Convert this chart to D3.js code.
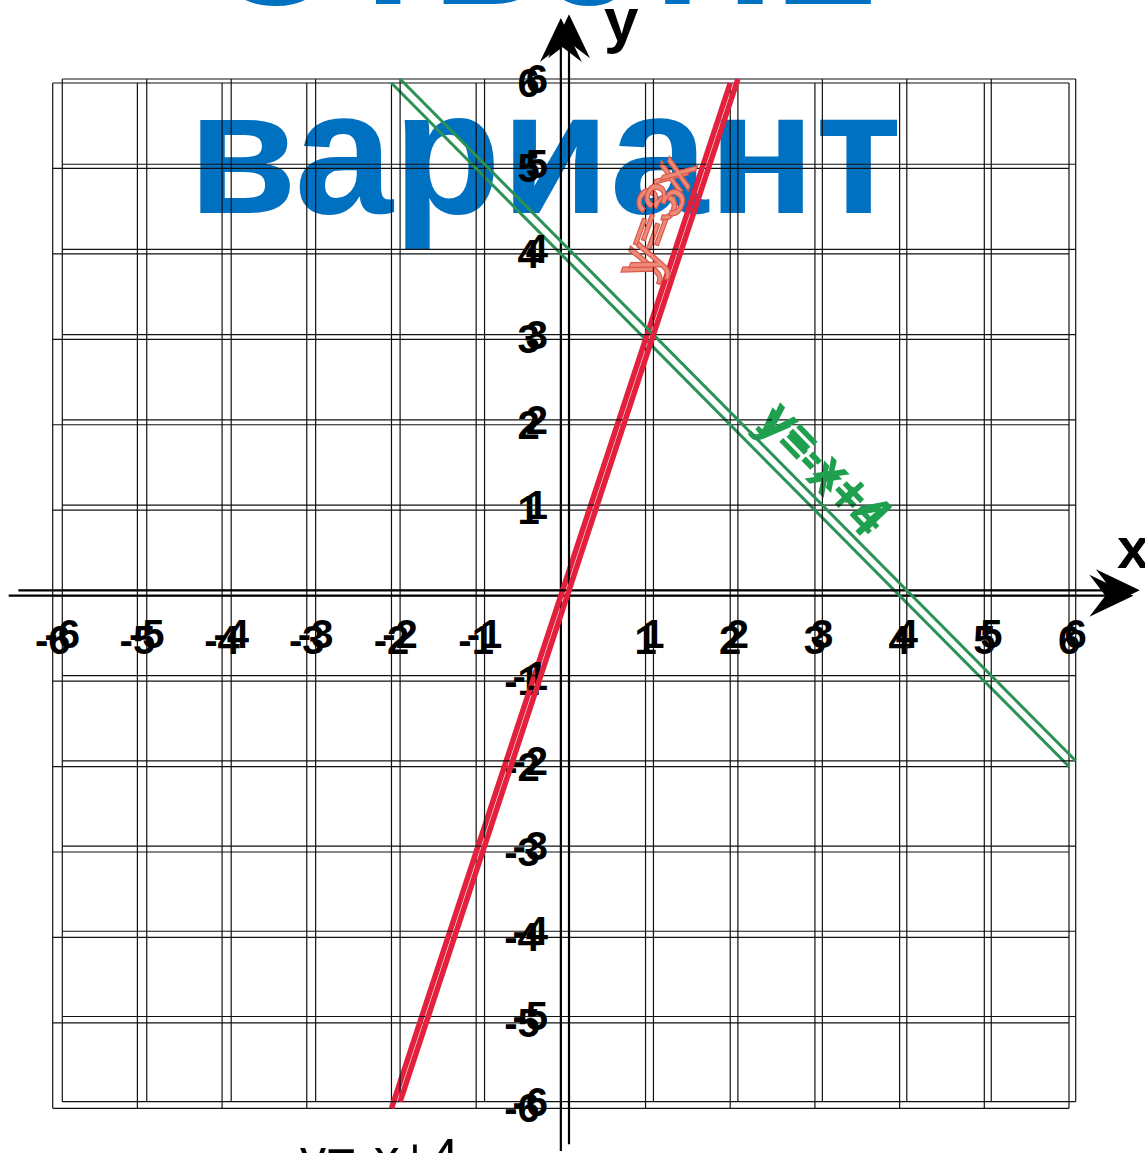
<!DOCTYPE html>
<html>
<head>
<meta charset="utf-8">
<script src="https://cdn.jsdelivr.net/npm/d3@7"></script>
<style>
body { margin: 0; background: #fff; }
svg { display: block; }
</style>
</head>
<body>
<div class="container"></div>
<script>
// data
const gridSteps = [-6, -5, -4, -3, -2, -1, 0, 1, 2, 3, 4, 5, 6]
const tickLabels = [-6, -5, -4, -3, -2, -1, 1, 2, 3, 4, 5, 6]
const redX = [-2, 2]
const redY = [-6, 6]
const greenX = [-2, 6]
const greenY = [6, -2]
const axisX = [-6.52, 6.76]
const axisY = [-6.5, 6.76]

const w = 1145
const h = 1153

// the picture is two slightly shifted prints of the same chart
const copies = [
    { x: [52.7, 1069], y: [1108.3, 83] },
    { x: [62.3, 1075.7], y: [1101.7, 79] }
]

const svg = d3.select(".container")
    .append("svg")
    .attr("width", w)
    .attr("height", h)
    .style("font-family", "'Liberation Sans', Arial, sans-serif")

// titles sit under the grid
svg.append("text")
    .attr("x", 207)
    .attr("y", 4)
    .attr("font-size", 177)
    .attr("font-weight", "bold")
    .attr("fill", "#0070c0")
    .text("Ответ:2")

svg.append("text")
    .attr("x", 188)
    .attr("y", 213)
    .attr("font-size", 177)
    .attr("font-weight", "bold")
    .attr("fill", "#0070c0")
    .text("вариант")

copies.forEach((c) => {
    const x = d3.scaleLinear().domain([-6, 6]).range(c.x)
    const y = d3.scaleLinear().domain([-6, 6]).range(c.y)
    const g = svg.append("g")

    g.selectAll(".vgrid")
        .data(gridSteps)
        .enter()
        .append("line")
        .attr("x1", d => x(d))
        .attr("x2", d => x(d))
        .attr("y1", y(-6))
        .attr("y2", y(6))
        .attr("stroke", "#111")
        .attr("stroke-width", 1.2)

    g.selectAll(".hgrid")
        .data(gridSteps)
        .enter()
        .append("line")
        .attr("x1", x(-6))
        .attr("x2", x(6))
        .attr("y1", d => y(d))
        .attr("y2", d => y(d))
        .attr("stroke", "#111")
        .attr("stroke-width", 1.2)

    // axes
    g.append("line")
        .attr("x1", x(axisX[0])).attr("x2", x(axisX[1]) - 20)
        .attr("y1", y(0)).attr("y2", y(0))
        .attr("stroke", "#000").attr("stroke-width", 2.2)
    g.append("line")
        .attr("x1", x(0)).attr("x2", x(0))
        .attr("y1", y(axisY[0])).attr("y2", y(axisY[1]) + 20)
        .attr("stroke", "#000").attr("stroke-width", 2.2)

    const tx = x(axisX[1]), ty = y(0)
    g.append("path")
        .attr("d", `M${tx},${ty} L${tx - 44},${ty - 21} L${tx - 28},${ty} L${tx - 44},${ty + 21} Z`)
        .attr("fill", "#000")
    const ax = x(0), ay = y(axisY[1])
    g.append("path")
        .attr("d", `M${ax},${ay} L${ax - 21},${ay + 44} L${ax},${ay + 28} L${ax + 21},${ay + 44} Z`)
        .attr("fill", "#000")

    // tick labels
    g.selectAll(".xlab")
        .data(tickLabels)
        .enter()
        .append("text")
        .attr("x", d => x(d))
        .attr("y", y(0) + 58)
        .attr("text-anchor", "middle")
        .attr("font-size", 40)
        .attr("font-weight", "bold")
        .attr("fill", "#000")
        .text(d => d)

    g.selectAll(".ylab")
        .data(tickLabels)
        .enter()
        .append("text")
        .attr("x", x(0) - 21)
        .attr("y", d => y(d) + 14)
        .attr("text-anchor", "end")
        .attr("font-size", 40)
        .attr("font-weight", "bold")
        .attr("fill", "#000")
        .text(d => d)

    // the two graphs
    const line = d3.line().x(d => x(d[0])).y(d => y(d[1]))
    g.append("path")
        .attr("d", line(d3.zip(greenX, greenY)))
        .attr("stroke", "#2a9254")
        .attr("stroke-width", 3)
        .attr("fill", "none")
    g.append("path")
        .attr("d", line(d3.zip(redX, redY)))
        .attr("stroke", "#e3213d")
        .attr("stroke-width", 5.5)
        .attr("fill", "none")

    // labels along the graphs
    g.append("text")
        .attr("transform", `translate(${x(1.08)},${y(4.4)}) rotate(-70)`)
        .attr("text-anchor", "middle")
        .attr("dy", 18)
        .attr("font-size", 56)
        .attr("fill", "#ee8a78")
        .attr("stroke", "#d9594a")
        .attr("stroke-width", 1.2)
        .text("y=3x")

    g.append("text")
        .attr("transform", `translate(${x(3.05)},${y(1.45)}) rotate(46)`)
        .attr("text-anchor", "middle")
        .attr("dy", 15)
        .attr("font-size", 50)
        .attr("font-weight", "bold")
        .attr("fill", "#1fa04e")
        .text("y=-x+4")
})

// axis names
svg.append("text")
    .attr("x", 604)
    .attr("y", 41)
    .attr("font-size", 62)
    .attr("font-weight", "bold")
    .text("y")

svg.append("text")
    .attr("x", 1117)
    .attr("y", 568)
    .attr("font-size", 58)
    .attr("font-weight", "bold")
    .text("x")

svg.append("text")
    .attr("x", 300)
    .attr("y", 1175)
    .attr("font-size", 52)
    .text("y=-x+4")
</script>
</body>
</html>
